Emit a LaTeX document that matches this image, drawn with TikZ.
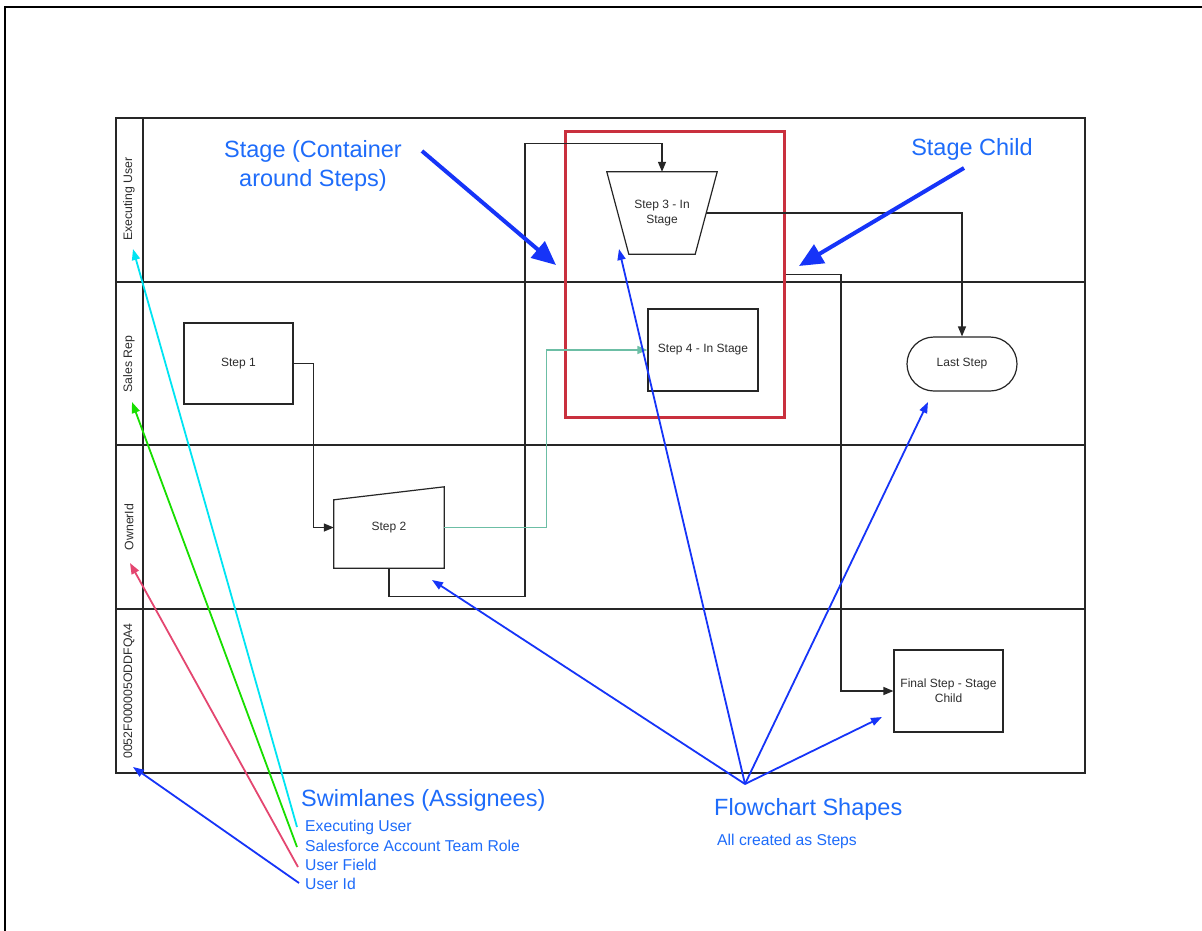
\documentclass[tikz,border=0pt]{standalone}
\usepackage{fontspec}
\setmainfont{Liberation Sans}
\usetikzlibrary{arrows.meta,shapes.misc,calc}
\definecolor{annot}{RGB}{30,108,250}
\definecolor{annarrow}{RGB}{22,52,248}
\definecolor{stagered}{RGB}{201,48,62}
\definecolor{tealline}{RGB}{108,190,165}
\definecolor{cyanl}{RGB}{0,228,242}
\definecolor{greenl}{RGB}{24,222,0}
\definecolor{pinkl}{RGB}{228,70,112}
\definecolor{txtgray}{RGB}{45,45,45}
\tikzset{
  lane/.style={line width=1.3pt, draw=black!85},
  lanelabel/.style={rotate=90, font=\fontsize{12.3}{14}\selectfont, text=txtgray},
  stepbox/.style={draw=black!85, line width=1.2pt, font=\fontsize{12}{15}\selectfont, text=txtgray, align=center, inner sep=0pt},
  ghost/.style={font=\fontsize{12}{15}\selectfont, text=txtgray, align=center, inner sep=0pt},
  shapeline/.style={draw=black!85, line width=1.2pt},
  flow/.style={draw=black!85, line width=1.3pt, -{Triangle[length=10pt,width=8pt]}},
  tealflow/.style={draw=tealline, line width=1.3pt, -{Triangle[length=10pt,width=8pt]}},
  stagebox/.style={draw=stagered, line width=3.2pt},
  bigtxt/.style={text=annot, font=\fontsize{23.5}{29}\selectfont, align=center, inner sep=0pt},
  smalltxt/.style={text=annot, font=\fontsize{15.7}{18}\selectfont, inner sep=0pt, anchor=west},
  bigarrow/.style={draw=annarrow, line width=4pt, -{Triangle[length=24pt,width=21pt]}},
  thinarrow/.style={draw=annarrow, line width=1.8pt, -{Triangle[length=11pt,width=8pt]}},
  legarrow/.style={line width=1.8pt, -{Triangle[length=11pt,width=8pt]}}
}
\begin{document}
\begin{tikzpicture}[x=1pt,y=-1pt]
\useasboundingbox (0,0) rectangle (1202,930);
\fill[white] (0,0) rectangle (1202,930);
% outer frame
\draw[line width=2pt, black] (5,935) -- (5,7) -- (1210,7);

% swimlane table
\draw[lane] (116,118) rectangle (1085,773);
\draw[lane] (143,118) -- (143,773);
\draw[lane] (116,282) -- (1085,282);
\draw[lane] (116,445) -- (1085,445);
\draw[lane] (116,609) -- (1085,609);

\node[lanelabel] (l1) at (129,199) {Executing User};
\node[lanelabel] (l2) at (129,364) {Sales Rep};
\node[lanelabel] (l3) at (129,527) {OwnerId};
\node[lanelabel] (l4) at (129,691) {0052F000005ODDFQA4};

% stage container
\node[stagebox, minimum width=219, minimum height=286] (stage) at (675,274.5) {};

% steps
\node[stepbox, minimum width=109, minimum height=81] (s1) at (238.5,363.5) {Step 1};
\node[ghost, minimum width=110, minimum height=81] (s2) at (389,527.5) {\raisebox{-4pt}{Step 2}};
\draw[shapeline] ($(s2.north west)+(0,13)$) -- (s2.north east) -- (s2.south east) -- (s2.south west) -- cycle;
\node[ghost, minimum width=110, minimum height=82] (s3) at (662,213) {Step 3 - In\\Stage};
\draw[shapeline] (s3.north west) -- (s3.north east) -- ($(s3.south east)+(-22,0)$) -- ($(s3.south west)+(22,0)$) -- cycle;
\coordinate (s3r) at ($(s3.east)+(-11,0)$);
\node[stepbox, minimum width=110, minimum height=82] (s4) at (703,350) {Step 4 - In Stage};
\node[stepbox, rounded rectangle, minimum width=110, minimum height=54] (last) at (962,364) {Last Step};
\node[stepbox, minimum width=109, minimum height=82] (final) at (948.5,691) {Final Step - Stage\\Child};

% connectors
\draw[flow] (s1.east) -- ++(20,0) |- (s2.west);
\draw[flow] (s2.south) -- ++(0,28) -- ++(136,0) |- ($(s3.north)+(0,-28)$) -- (s3.north);
\draw[tealflow] (s2.east) -- ++(102,0) |- (s4.west);
\draw[flow] (s3r) -| (last.north);
\draw[flow] (stage.east) -- ++(55,0) |- (final.west);

% annotations
\node[bigtxt] (tstage) at (313,166) {Stage (Container\\around Steps)};
\node[bigtxt] (tchild) at (972,149) {Stage Child};
\coordinate (b1s) at (422,151);
\coordinate (b1e) at (556,265);
\coordinate (b2s) at (964,168);
\coordinate (b2e) at (799,266);
\draw[bigarrow] (b1s) -- (b1e);
\draw[bigarrow] (b2s) -- (b2e);

\node[bigtxt, anchor=west] (swim) at (301,800) {Swimlanes (Assignees)};
\node[smalltxt] (i1) at (305,827) {Executing User};
\node[smalltxt] (i2) at (305,846) {Salesforce Account Team Role};
\node[smalltxt] (i3) at (305,865) {User Field};
\node[smalltxt] (i4) at (305,884) {User Id};
\coordinate (e1) at (133,249);
\coordinate (e2) at (132,402);
\coordinate (e3) at (130,563);
\coordinate (e4) at (133,767);
\draw[legarrow, draw=cyanl] ($(i1.west)+(-8,0)$) -- (e1);
\draw[legarrow, draw=greenl] ($(i2.west)+(-8,1)$) -- (e2);
\draw[legarrow, draw=pinkl] ($(i3.west)+(-7,2)$) -- (e3);
\draw[legarrow, draw=annarrow] ($(i4.west)+(-6,-1)$) -- (e4);

\node[bigtxt, anchor=west] (fc) at (714,809) {Flowchart Shapes};
\node[smalltxt] (fcs) at (717,841) {All created as Steps};
\coordinate (hub) at (745,784);
\coordinate (t1) at (432,580);
\coordinate (t2) at (619,249);
\coordinate (t3) at (928,402);
\coordinate (t4) at (882,717);
\draw[thinarrow] (hub) -- (t1);
\draw[thinarrow] (hub) -- (t2);
\draw[thinarrow] (hub) -- (t3);
\draw[thinarrow] (hub) -- (t4);
\end{tikzpicture}
\end{document}
